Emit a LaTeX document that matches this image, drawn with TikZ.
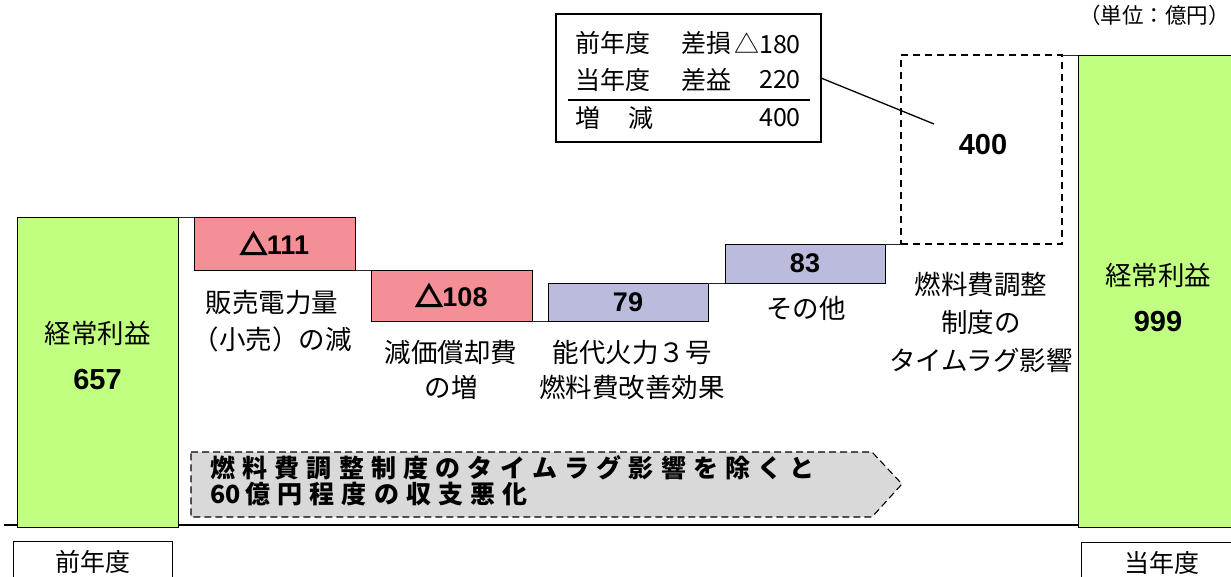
\documentclass[tikz,border=0pt]{standalone}
\usepackage{fontspec}
\setmainfont{Liberation Sans}
\newfontfamily\jp{Noto Sans CJK JP}
\newfontfamily\jpfb[FakeBold=6]{Noto Sans CJK JP}
\newfontfamily\nm{Liberation Sans}
\definecolor{barG}{RGB}{192,255,128}
\definecolor{barR}{RGB}{244,143,150}
\definecolor{barB}{RGB}{187,187,221}
\definecolor{arrG}{RGB}{217,217,217}
\makeatletter
\newcommand\spacedtext[1]{\@tfor\sp@c:=#1\do{\makebox[32.2pt][l]{\sp@c}}}
\makeatother
\tikzset{
  bar/.style={draw=black, line width=1pt, inner sep=0pt, outer sep=0pt},
  conn/.style={draw=black!85, line width=0.9pt},
  dashbox/.style={draw=black, line width=1.3pt, dash pattern=on 7pt off 5pt, inner sep=0pt, outer sep=0pt},
  lbl/.style={font=\jp\fontsize{26.5}{37}\selectfont, align=center, inner sep=0pt},
  tbltxt/.style={font=\jp\fontsize{25}{30}\selectfont, inner sep=0pt},
  num/.style={font=\nm\bfseries\fontsize{27}{30}\selectfont},
  bignum/.style={font=\nm\bfseries\fontsize{29}{32}\selectfont, inner sep=0pt},
  graytxt/.style={font=\jp\bfseries\fontsize{25}{28}\selectfont, inner sep=0pt, anchor=west},
  yearbox/.style={draw=black, line width=1pt, font=\jp\fontsize{25}{30}\selectfont, inner sep=0pt},
}
\newcommand\tri{{\jpfb △}}
\begin{document}
\begin{tikzpicture}[x=1pt,y=-1pt]
\useasboundingbox (0,0) rectangle (1231,576);

% baseline
\coordinate (bl0) at (4,525);
\coordinate (bl1) at (1240,525);
\draw[line width=1.2pt] (bl0) -- (bl1);

% gray note arrow
\coordinate (a1) at (191,452);
\coordinate (a2) at (872,452);
\coordinate (a3) at (902,484);
\coordinate (a4) at (872,517);
\coordinate (a5) at (191,517);
\filldraw[fill=arrG, draw=black, line width=1.1pt, dash pattern=on 7pt off 4pt] (a1) -- (a2) -- (a3) -- (a4) -- (a5) -- cycle;
\node[graytxt] (g1) at (210,467.5) {\spacedtext{燃料費調整制度のタイムラグ影響を除くと}};
\node[graytxt] (g2) at (210,494.5) {\makebox[35pt][l]{60}\spacedtext{億円程度の収支悪化}};

% bars
\node[bar, fill=barG, minimum width=161pt, minimum height=310pt] (prev) at (97.5,372) {};
\node[bar, fill=barR, minimum width=161pt, minimum height=53pt, num] (r1) at (274.5,243.5) {\tri 111};
\node[bar, fill=barR, minimum width=161pt, minimum height=51pt, num] (r2) at (451.5,295.5) {\tri 108};
\node[bar, fill=barB, minimum width=160pt, minimum height=38pt, num] (b1) at (628,302) {79};
\node[bar, fill=barB, minimum width=160pt, minimum height=39pt, num] (b2) at (805,263.5) {83};
\node[dashbox, minimum width=161pt, minimum height=189pt] (lag) at (981.5,149.5) {};
\node[bar, fill=barG, minimum width=162pt, minimum height=472pt] (cur) at (1159,291) {};

% connectors
\draw[conn] (prev.north east) -- (r1.north west);
\draw[conn] (r1.south east) -- (r2.north west);
\draw[conn] (r2.south east) -- (b1.south west);
\draw[conn] (b1.north east) -- (b2.south west);
\draw[conn] (b2.north east) -- (lag.south west);
\draw[conn] (lag.north east) -- (cur.north west);

% bar labels
\node[lbl] (gl1) at (97.5,333) {経常利益};
\node[bignum] (gn1) at (97.5,380) {657};
\node[lbl] (gl2) at (1158,275) {経常利益};
\node[bignum] (gn2) at (1158,322) {999};
\node[bignum] (lagnum) at (983,145) {400};

\node[lbl] (lab1) at (272,321.5) {販売電力量\\（小売）の減};
\node[lbl, font=\jp\fontsize{26.5}{35}\selectfont] (lab2) at (451,369.5) {減価償却費\\の増};
\node[lbl, font=\jp\fontsize{26.5}{35}\selectfont] (lab3) at (632,369.5) {能代火力３号\\燃料費改善効果};
\node[lbl] (lab4) at (806,308) {その他};
\node[lbl, font=\jp\fontsize{26.5}{38}\selectfont] (lab5) at (981,322) {燃料費調整\\制度の\\タイムラグ影響};

% unit
\node[font=\jp\fontsize{21.5}{26}\selectfont, anchor=west, inner sep=0pt] (unit) at (1079,15) {（単位：億円）};

% table callout
\node[draw=black, line width=1.2pt, minimum width=265pt, minimum height=128pt, inner sep=0pt, outer sep=0pt] (tbl) at (688.5,78) {};
\node[tbltxt, anchor=west] (t11) at (575,43) {前年度};
\node[tbltxt, anchor=west] (t12) at (681,43) {差損};
\node[tbltxt, anchor=east] (t13) at (801,43) {△180};
\node[tbltxt, anchor=west] (t21) at (575,80) {当年度};
\node[tbltxt, anchor=west] (t22) at (681,80) {差益};
\node[tbltxt, anchor=east] (t23) at (801,80) {220};
\node[tbltxt, anchor=west] (t31) at (575,118) {増};
\node[tbltxt, anchor=west] (t32) at (628,118) {減};
\node[tbltxt, anchor=east] (t33) at (801,118) {400};
\coordinate (rule0) at (568,100);
\coordinate (rule1) at (810,100);
\draw[line width=1.2pt] (rule0) -- (rule1);
\coordinate (callend) at (934,124);
\draw[line width=1.3pt] (tbl.east) -- (callend);

% year boxes
\node[yearbox, minimum width=159pt, minimum height=42pt] (yr1) at (92.5,562) {前年度};
\node[yearbox, minimum width=162pt, minimum height=42pt] (yr2) at (1162,563) {当年度};
\end{tikzpicture}
\end{document}
